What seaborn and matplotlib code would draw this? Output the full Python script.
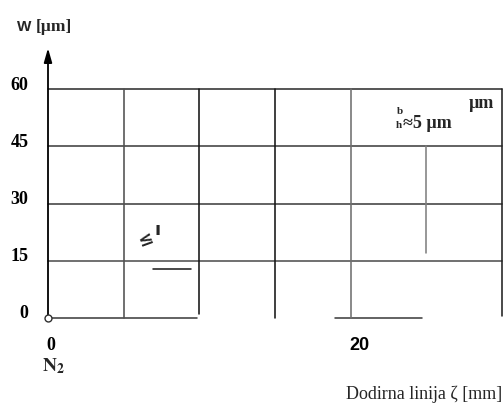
import matplotlib
matplotlib.use("Agg")
import matplotlib.pyplot as plt
import matplotlib.transforms as mtransforms
import pandas as pd
import seaborn as sns

# Wear scale W [µm] and contact line ζ [mm]
w_ticks = [0, 15, 30, 45, 60]
w_tick_labels = ["0", "15", "30", "45", "60"]
zeta_ticks = [0, 20]
zeta_tick_labels = ["0", "20"]

# Horizontal rules: level, start, end (ζ in mm, W in µm)
h_level = [60, 45, 30, 15, 0, 0, 12.8]
h_start = [0, 0, 0, 0, 0, 18.95, 6.95]
h_end = [30, 30, 30, 30, 9.85, 24.7, 9.45]
h_color = ["#303030", "#404040", "#404040", "#505050", "#404040", "#404040", "#202020"]

# Vertical rules: position, bottom, top
v_pos = [5, 10, 15, 20, 25, 30]
v_bottom = [0, 1.0, 0, 0, 17.0, 0.5]
v_top = [60, 60, 60, 60, 45, 60]
v_color = ["#505050", "#151515", "#151515", "#707070", "#808080", "#202020"]

sns.set_theme(style="white")
plt.rcParams["font.family"] = ["Liberation Serif", "DejaVu Serif"]
plt.rcParams["mathtext.fontset"] = "stix"

W, H = 503, 403
fig = plt.figure(figsize=(W / 100, H / 100), dpi=100)
ax = fig.add_axes([48 / W, (H - 318) / H, (502 - 48) / W, (318 - 89.3) / H])

# Long-form table of rule segments
rows = []
palette = {}
for i, (lv, a, b) in enumerate(zip(h_level, h_start, h_end)):
    key = f"h{i}"
    palette[key] = h_color[i]
    rows += [(key, a, lv), (key, b, lv)]
for i, (p, lo, hi) in enumerate(zip(v_pos, v_bottom, v_top)):
    key = f"v{i}"
    palette[key] = v_color[i]
    rows += [(key, p, lo), (key, p, hi)]
seg = pd.DataFrame(rows, columns=["seg", "zeta", "w"])

sns.lineplot(data=seg, x="zeta", y="w", hue="seg", palette=palette,
             estimator=None, sort=False, legend=False, lw=1.15, ax=ax)
for ln in ax.lines:
    ln.set_clip_on(False)

# W axis with arrowhead
ax.annotate("", xy=(0, 70.8), xytext=(0, 0), annotation_clip=False,
            arrowprops=dict(arrowstyle="-|>,head_length=0.7,head_width=0.2",
                            color="black", lw=1.3, shrinkA=0, shrinkB=0))
ax.plot([0], [0], marker="o", ms=5, mfc="white", mec="#303030", mew=1.0,
        clip_on=False, zorder=6)

ax.set_xlim(0, 30)
ax.set_ylim(0, 60)
for s in ax.spines.values():
    s.set_visible(False)
ax.set_xlabel("")
ax.set_ylabel("")

ax.set_yticks(w_ticks)
ax.set_yticklabels(w_tick_labels, fontsize=13, fontweight="bold",
                   family="Liberation Serif")
ax.tick_params(axis="y", length=0, pad=14, colors="black")
up = mtransforms.ScaledTranslation(0, 6 / 100, fig.dpi_scale_trans)
for lab in ax.get_yticklabels():
    lab.set_transform(lab.get_transform() + up)

ax.set_xticks(zeta_ticks)
ax.set_xticklabels(zeta_tick_labels, fontsize=13, fontweight="bold")
ax.tick_params(axis="x", length=0, pad=14, colors="black")
xl = ax.get_xticklabels()
xl[0].set_family("Liberation Serif")
xl[0].set_transform(xl[0].get_transform()
                    + mtransforms.ScaledTranslation(3 / 100, 0, fig.dpi_scale_trans))
xl[1].set_family("Liberation Sans")
xl[1].set_transform(xl[1].get_transform()
                    + mtransforms.ScaledTranslation(9 / 100, 0, fig.dpi_scale_trans))


def fpos(px, py):
    return px / W, 1 - py / H


# Axis captions
fig.text(*fpos(24, 27), "W", family="Liberation Sans", fontweight="bold",
         fontsize=11, ha="center", va="center")
fig.text(*fpos(53.5, 27), "[µm]", family="Liberation Serif", fontweight="bold",
         fontsize=12.5, ha="center", va="center")
fig.text(*fpos(53, 366), r"$\mathbf{N_2}$", fontsize=14, ha="center", va="center")
fig.text(*fpos(502, 394), "Dodirna linija ζ [mm]", family="Liberation Serif",
         fontsize=13, ha="right", va="center")

# Annotations inside the grid
fig.text(*fpos(146, 240), "≤", family="DejaVu Sans", fontweight="bold",
         fontsize=13, rotation=20, ha="center", va="center")
fig.text(*fpos(157.5, 230), "ı", family="DejaVu Sans", fontweight="bold",
         fontsize=13, ha="center", va="center")
fig.text(*fpos(400, 111), "b", family="Liberation Serif", fontweight="bold",
         fontsize=8, ha="center", va="center")
fig.text(*fpos(399, 126), "h", family="Liberation Serif", fontweight="bold",
         fontsize=8, ha="center", va="center")
fig.text(*fpos(403, 124), "≈5 µm", family="Liberation Serif", fontweight="bold",
         fontsize=13, ha="left", va="center")
fig.text(*fpos(481, 104), "µm", family="Liberation Serif", fontweight="bold",
         fontsize=13, ha="center", va="center")

fig.savefig("out.png", dpi=100)
